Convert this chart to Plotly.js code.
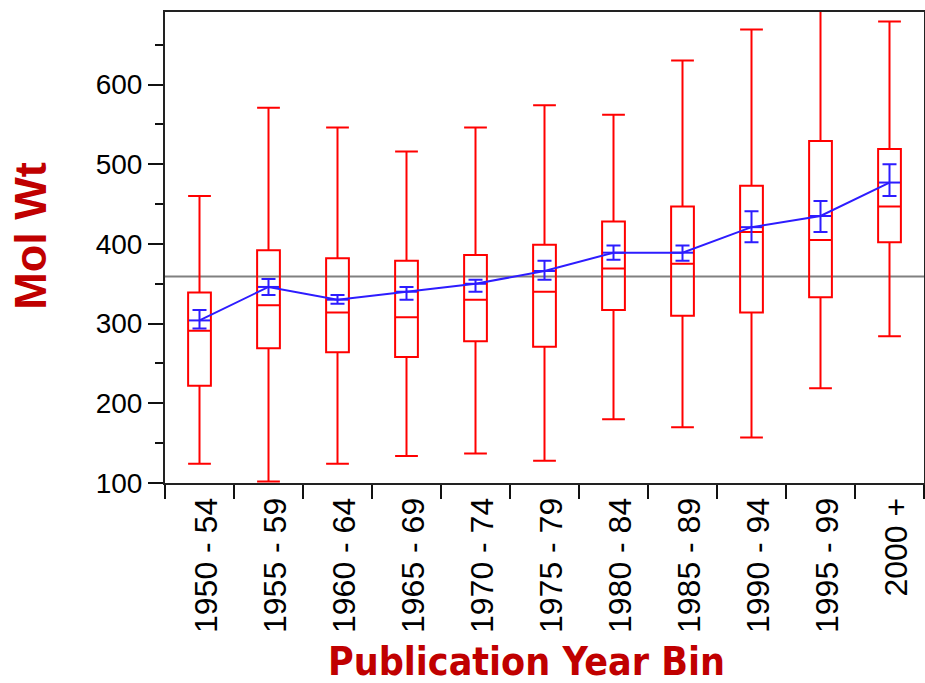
<!DOCTYPE html>
<html>
<head>
<meta charset="utf-8">
<script src="https://cdn.plot.ly/plotly-3.0.1.min.js"></script>
<style>html,body{margin:0;padding:0;background:#fff;}#chart{width:925px;height:683px;}</style>
</head>
<body>
<div id="chart"></div>
<script>
const categories = ["1950 - 54","1955 - 59","1960 - 64","1965 - 69","1970 - 74","1975 - 79","1980 - 84","1985 - 89","1990 - 94","1995 - 99","2000 +"];
const upperWhisker = [460, 571, 546, 516, 546, 574, 562, 630, 669, 700, 679];
const q3Values     = [339, 392, 382, 379, 386, 399, 428, 447, 473, 529, 519];
const medianValues = [291, 323, 314, 308, 330, 340, 369, 375, 415, 405, 447];
const q1Values     = [222, 269, 264, 258, 278, 271, 317, 310, 314, 333, 402];
const lowerWhisker = [124, 102, 124, 134, 137, 128, 180, 170, 157, 219, 284];
const meanValues   = [304, 346, 330, 340, 350, 366, 389, 389, 421, 435, 477];
const meanUpper    = [317, 356, 336, 346, 355, 379, 398, 398, 441, 454, 500];
const meanLower    = [294, 336, 325, 330, 340, 355, 380, 379, 402, 415, 460];
const overallMean  = 359;
const yTickVals    = [100, 200, 300, 400, 500, 600];

const red = '#ff0000';
const blue = '#2d1cff';
const titleRed = '#c00000';

const boxTrace = {
  type: 'box',
  x: categories,
  q1: q1Values,
  median: medianValues,
  q3: q3Values,
  lowerfence: lowerWhisker,
  upperfence: upperWhisker,
  boxpoints: false,
  width: 0.33,
  whiskerwidth: 1,
  line: {color: red, width: 2},
  fillcolor: 'rgba(0,0,0,0)',
  showlegend: false,
  hoverinfo: 'skip'
};

const meanTrace = {
  type: 'scatter',
  mode: 'lines+markers',
  x: categories,
  y: meanValues,
  line: {color: blue, width: 2},
  marker: {symbol: 'line-ew-open', size: 15, color: blue, line: {color: blue, width: 2}},
  error_y: {
    type: 'data', symmetric: false,
    array: meanUpper.map((v, i) => v - meanValues[i]),
    arrayminus: meanValues.map((v, i) => v - meanLower[i]),
    color: blue, thickness: 2, width: 7
  },
  showlegend: false,
  hoverinfo: 'skip'
};

const layout = {
  width: 925, height: 683,
  margin: {l: 165, r: 1, t: 12, b: 200},
  paper_bgcolor: '#fff', plot_bgcolor: '#fff',
  font: {family: 'Liberation Sans, Arial, sans-serif', size: 28, color: '#000'},
  xaxis: {
    type: 'category',
    range: [-0.5, 10.5],
    tickangle: -90,
    tickson: 'boundaries',
    ticklabelshift: 7,
    ticks: 'outside', ticklen: 14, tickwidth: 2, tickcolor: '#111',
    showline: true, linecolor: '#222', linewidth: 2, mirror: true,
    showgrid: false, zeroline: false,
    tickfont: {size: 32, color: '#000'}
  },
  yaxis: {
    range: [100, 691],
    tickvals: yTickVals,
    ticks: 'outside', ticklen: 15, tickwidth: 2, tickcolor: '#111',
    minor: {dtick: 50, tick0: 100, ticks: 'outside', ticklen: 8, tickwidth: 2, tickcolor: '#111', showgrid: false},
    showline: true, linecolor: '#222', linewidth: 2, mirror: true,
    showgrid: false, zeroline: false,
    tickfont: {size: 28, color: '#000'}
  },
  shapes: [{
    type: 'line', xref: 'paper', yref: 'y', x0: 0, x1: 1, y0: overallMean, y1: overallMean,
    line: {color: '#808080', width: 2}, layer: 'below'
  }],
  annotations: [
    {text: '<b>Mol Wt</b>', xref: 'paper', yref: 'paper', x: -0.1765, y: 0.523, textangle: -90,
     showarrow: false, xanchor: 'center', yanchor: 'middle',
     font: {family: 'Liberation Sans, Arial, sans-serif', size: 45, color: titleRed}},
    {text: '<b>Publication Year Bin</b>', xref: 'paper', yref: 'paper', x: 0.476, y: -0.38,
     showarrow: false, xanchor: 'center', yanchor: 'middle',
     font: {family: 'DejaVu Sans Condensed, Liberation Sans Narrow, sans-serif', size: 39, color: titleRed}}
  ]
};

Plotly.newPlot('chart', [boxTrace, meanTrace], layout, {displayModeBar: false, staticPlot: true});
</script>
</body>
</html>
